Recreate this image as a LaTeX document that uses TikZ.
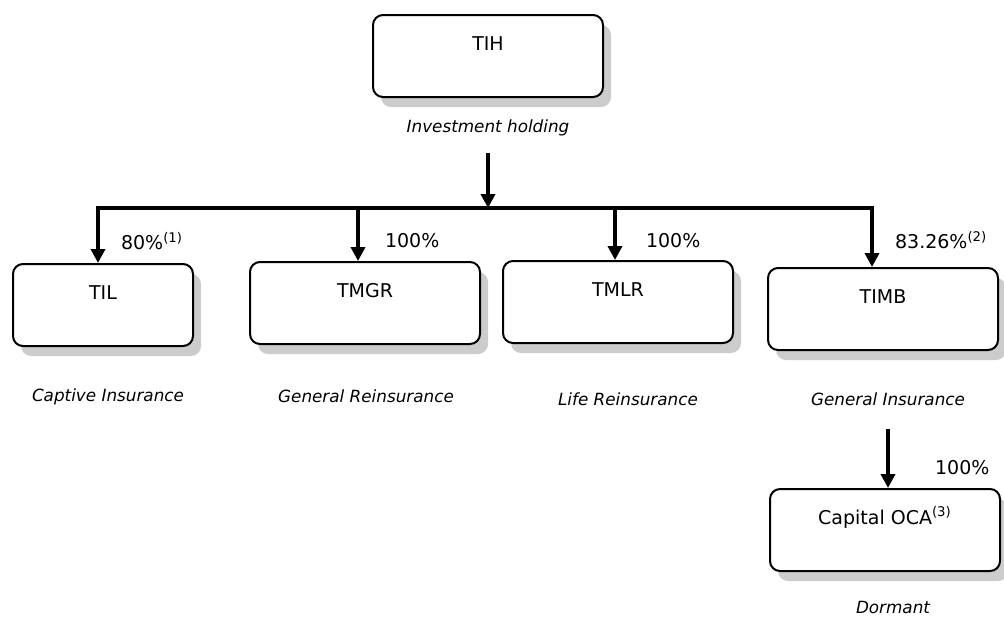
\documentclass[tikz,border=0pt]{standalone}
\usepackage{fontspec}
\setmainfont{DejaVu Sans}
\usetikzlibrary{arrows.meta,shadows}
\begin{document}
\begin{tikzpicture}[
x=0.5pt, y=-0.5pt,
font=\fontsize{9.5}{11}\selectfont,
firm/.style={draw, line width=1pt, rounded corners=5pt, fill=white,
    minimum width=115pt, minimum height=41pt, text height=7pt, text depth=13pt,
    drop shadow={shadow xshift=4pt, shadow yshift=-5pt, fill=gray!40, opacity=1}},
role/.style={font=\fontsize{8.4}{10}\selectfont\itshape},
share/.style={anchor=west},
own/.style={line width=2pt, -{Triangle[width=7pt,length=7pt]}}
]
\useasboundingbox (0,0) rectangle (1004,617);
\node[firm] (tih) at (488,56) {TIH};
\node[role] (tihrole) at (488,128) {Investment holding};
\coordinate (bar) at (488,208);
\coordinate (b1) at (98,208);
\coordinate (b2) at (358,208);
\coordinate (b3) at (615,208);
\coordinate (b4) at (872,208);
\draw[line width=2pt, line cap=rect] (b1) -- (b4);
\draw[own, shorten <=5pt] (tihrole) -- (bar);

\node[firm, minimum width=90pt] (til) at (103,305) {TIL};
\node[firm] (tmgr) at (365,303) {TMGR};
\node[firm] (tmlr) at (618,302) {TMLR};
\node[firm] (timb) at (883,309) {TIMB};
\node[firm] (oca) at (885,530) {Capital OCA\textsuperscript{(3)}};

\draw[own] (b1) -- (b1 |- til.north);
\draw[own] (b2) -- (b2 |- tmgr.north);
\draw[own] (b3) -- (b3 |- tmlr.north);
\draw[own] (b4) -- (b4 |- timb.north);

\node[share] (p1) at (114,241) {80\%\textsuperscript{(1)}};
\node[share] (p2) at (378,241) {100\%};
\node[share] (p3) at (639,241) {100\%};
\node[share] (p4) at (888,240) {83.26\%\textsuperscript{(2)}};
\node[share] (p5) at (928,468) {100\%};

\node[role] (r1) at (108,397) {Captive Insurance};
\node[role] (r2) at (366,396) {General Reinsurance};
\node[role] (r3) at (628,399) {Life Reinsurance};
\node[role] (r4) at (888,399) {General Insurance};
\node[role] (r5) at (893,607) {Dormant};

\draw[own, shorten <=8pt] (r4.south) -- (r4.south |- oca.north);
\end{tikzpicture}
\end{document}
